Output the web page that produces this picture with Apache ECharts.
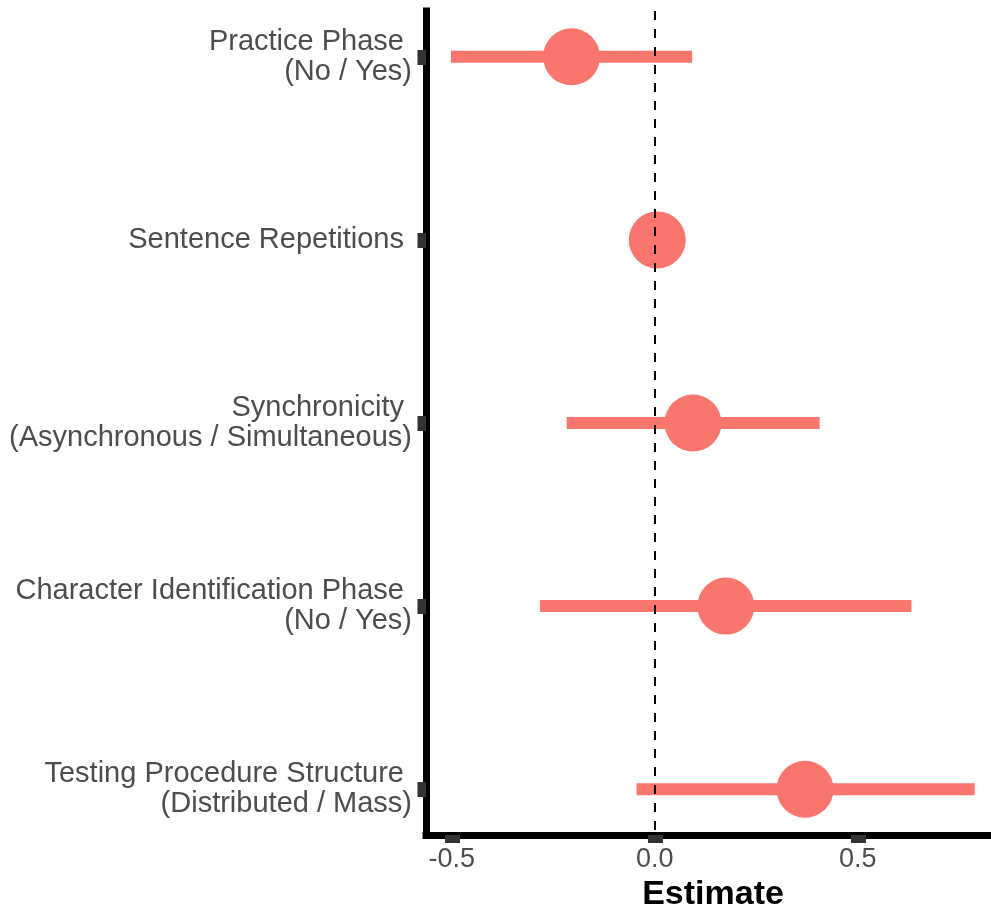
<!DOCTYPE html>
<html>
<head>
<meta charset="utf-8">
<script src="https://cdn.jsdelivr.net/npm/echarts@6/dist/echarts.min.js"></script>
<style>
  html, body { margin: 0; padding: 0; background: #ffffff; }
  #chart { width: 991px; height: 908px; }
</style>
</head>
<body>
<div id="chart"></div>
<script>
// Model terms, top to bottom
const categories = [
  'Practice Phase \n(No / Yes)',
  'Sentence Repetitions ',
  'Synchronicity \n(Asynchronous / Simultaneous)',
  'Character Identification Phase \n(No / Yes)',
  'Testing Procedure Structure \n(Distributed / Mass)'
];
// Point estimates and interval bounds
const estimates = [-0.205, 0.006, 0.094, 0.175, 0.370];
const lower = [-0.502, 0.003, -0.217, -0.283, -0.045];
const upper = [0.092, 0.009, 0.406, 0.632, 0.788];
// Tick values on the estimate axis
const xTicks = [-0.5, 0.0, 0.5];

const rowIdx = categories.map((_, i) => i);
const barData = rowIdx.map(i => [lower[i], upper[i], i]);
const pointData = rowIdx.map(i => [estimates[i], i]);

const POINT_COLOR = '#F8766D';
const FONT = '"Liberation Sans", Arial, Helvetica, sans-serif';

const chart = echarts.init(document.getElementById('chart'), null, { renderer: 'canvas' });

chart.setOption({
  animation: false,
  backgroundColor: '#ffffff',
  grid: {
    left: 426, right: 0, top: 11, bottom: 73,
    containLabel: false, outerBoundsMode: 'none'
  },
  xAxis: {
    type: 'value',
    min: -0.5635,
    max: 0.828,
    name: 'Estimate',
    nameLocation: 'middle',
    nameGap: 34,
    nameTextStyle: {
      fontFamily: FONT, fontSize: 34, fontWeight: 'bold', color: '#000000',
      padding: [0, 0, 0, 9]
    },
    splitLine: { show: false },
    axisLine: { show: true, onZero: false, lineStyle: { color: '#000000', width: 7, cap: 'square' } },
    axisTick: {
      show: true, customValues: xTicks, length: 8,
      lineStyle: { color: '#333333', width: 15 }
    },
    axisLabel: {
      show: true, customValues: xTicks, margin: 11,
      fontFamily: FONT, fontSize: 27, color: '#4d4d4d',
      formatter: v => v.toFixed(1)
    }
  },
  yAxis: {
    type: 'value',
    inverse: true,
    min: -0.25,
    max: 4.25,
    splitLine: { show: false },
    axisLine: { show: true, onZero: false, lineStyle: { color: '#000000', width: 7, cap: 'square' } },
    axisTick: {
      show: true, customValues: rowIdx, length: 8.5,
      lineStyle: { color: '#333333', width: 15 }
    },
    axisLabel: {
      show: true, customValues: rowIdx, margin: 14,
      fontFamily: FONT, fontSize: 29, color: '#4d4d4d', lineHeight: 30, align: 'right',
      formatter: v => categories[Math.round(v)]
    }
  },
  series: [
    {
      // interval bars
      type: 'custom',
      z: 2,
      data: barData,
      encode: { x: [0, 1], y: 2 },
      renderItem: (params, api) => {
        const a = api.coord([api.value(0), api.value(2)]);
        const b = api.coord([api.value(1), api.value(2)]);
        return {
          type: 'line',
          shape: { x1: a[0], y1: a[1], x2: b[0], y2: b[1] },
          style: { stroke: POINT_COLOR, lineWidth: 12, lineCap: 'butt' }
        };
      }
    },
    {
      // zero reference line
      type: 'line',
      z: 3,
      data: [],
      markLine: {
        silent: true,
        symbol: ['none', 'none'],
        label: { show: false },
        lineStyle: { color: '#000000', width: 2, type: [9, 9] },
        data: [{ xAxis: 0 }]
      }
    },
    {
      // point estimates
      type: 'scatter',
      z: 4,
      data: pointData,
      symbol: 'circle',
      symbolSize: 57,
      itemStyle: { color: POINT_COLOR, opacity: 1 }
    }
  ]
});
</script>
</body>
</html>
